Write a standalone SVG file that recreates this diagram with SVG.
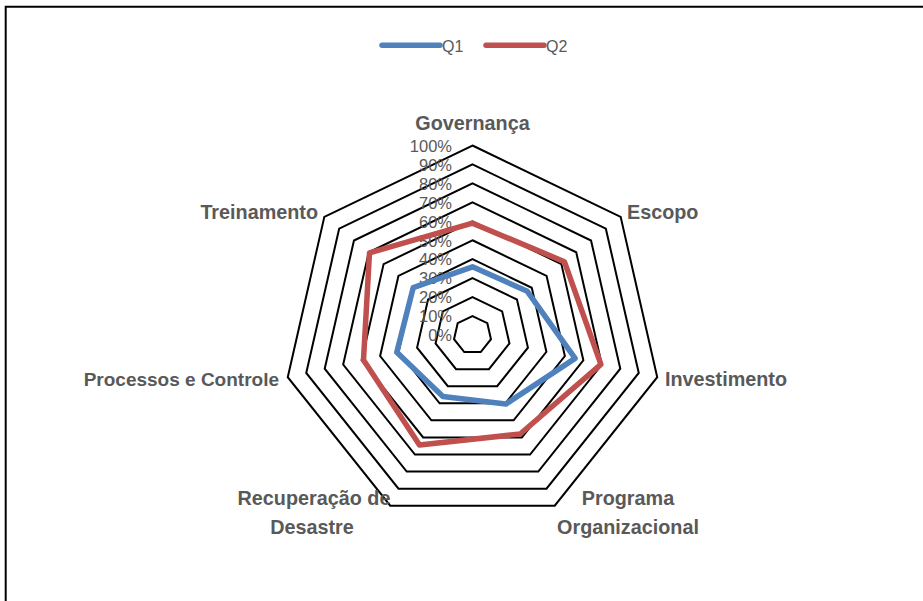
<svg xmlns="http://www.w3.org/2000/svg" width="923" height="601" viewBox="0 0 923 601">
<style>
.ring{fill:none;stroke:#000;stroke-width:2;stroke-linejoin:miter}
.tick{font-family:"Liberation Sans",Arial,sans-serif;font-size:16.5px;fill:#595959;text-anchor:end}
.cat{font-family:"Liberation Sans",Arial,sans-serif;font-size:19.8px;font-weight:bold;fill:#595959}
.leg{font-family:"Liberation Sans",Arial,sans-serif;font-size:16px;fill:#595959}
.q1{fill:none;stroke:#4F81BD;stroke-width:5.5;stroke-linejoin:round;stroke-linecap:round}
.q2{fill:none;stroke:#C0504D;stroke-width:5.5;stroke-linejoin:round;stroke-linecap:round}
</style>
<rect x="0" y="0" width="923" height="601" fill="#fff"/>
<path d="M5.7,601 V6.7 H923" fill="none" stroke="#000" stroke-width="2"/>
<g id="legend">
<line x1="382" y1="45.3" x2="440" y2="45.3" class="q1"/>
<text x="442" y="51.5" class="leg">Q1</text>
<line x1="486" y1="45.3" x2="544" y2="45.3" class="q2"/>
<text x="546" y="51.5" class="leg">Q2</text>
</g>
<g id="grid">
<polygon class="ring" points="472.5,316.05 487.32,323.19 490.98,339.22 480.72,352.07 464.28,352.07 454.03,339.22 457.68,323.19"/>
<polygon class="ring" points="472.5,297.1 502.13,311.37 509.45,343.43 488.94,369.15 456.06,369.15 435.55,343.43 442.87,311.37"/>
<polygon class="ring" points="472.5,278.15 516.95,299.56 527.93,347.65 497.17,386.22 447.83,386.22 417.08,347.65 428.05,299.56"/>
<polygon class="ring" points="472.5,259.2 531.76,287.74 546.4,351.87 505.39,403.29 439.61,403.29 398.6,351.87 413.24,287.74"/>
<polygon class="ring" points="472.5,240.25 546.58,275.92 564.88,356.08 513.61,420.37 431.39,420.37 380.13,356.08 398.42,275.92"/>
<polygon class="ring" points="472.5,221.3 561.39,264.11 583.35,360.3 521.83,437.44 423.17,437.44 361.65,360.3 383.61,264.11"/>
<polygon class="ring" points="472.5,202.35 576.21,252.29 601.82,364.52 530.06,454.51 414.95,454.51 343.18,364.52 368.79,252.29"/>
<polygon class="ring" points="472.5,183.4 591.03,240.48 620.3,368.73 538.28,471.59 406.72,471.59 324.7,368.73 353.97,240.48"/>
<polygon class="ring" points="472.5,164.45 605.84,228.66 638.77,372.95 546.5,488.66 398.5,488.66 306.23,372.95 339.16,228.66"/>
<polygon class="ring" points="472.5,145.5 620.66,216.85 657.25,377.17 554.72,505.73 390.28,505.73 287.75,377.17 324.34,216.85"/>
</g>
<g id="ticks">
<text class="tick" x="452" y="341.2">0%</text>
<text class="tick" x="452" y="322.3">10%</text>
<text class="tick" x="452" y="303.3">20%</text>
<text class="tick" x="452" y="284.4">30%</text>
<text class="tick" x="452" y="265.4">40%</text>
<text class="tick" x="452" y="246.5">50%</text>
<text class="tick" x="452" y="227.5">60%</text>
<text class="tick" x="452" y="208.6">70%</text>
<text class="tick" x="452" y="189.6">80%</text>
<text class="tick" x="452" y="170.7">90%</text>
<text class="tick" x="452" y="151.7">100%</text>
</g>
<g id="series">
<polygon class="q1" points="472.5,266.8 527.3,291.3 575.1,358.4 505.8,404.1 442.9,396.4 396.8,352.3 413.2,287.7"/>
<polygon class="q2" points="472.5,223.2 564.4,261.7 600.9,364.3 520.2,434 419.5,445.1 363.5,359.9 369.5,252.9"/>
</g>
<g id="labels">
<text class="cat" x="472.5" y="129.5" text-anchor="middle">Governança</text>
<text class="cat" x="627" y="219">Escopo</text>
<text class="cat" x="665" y="385.5">Investimento</text>
<text class="cat" x="628" y="504.5" text-anchor="middle">Programa</text>
<text class="cat" x="628" y="533.5" text-anchor="middle">Organizacional</text>
<text class="cat" x="314" y="504.5" text-anchor="middle">Recuperação de</text>
<text class="cat" x="312" y="533.5" text-anchor="middle">Desastre</text>
<text class="cat" x="279" y="385.5" text-anchor="end" style="font-size:19px">Processos e Controle</text>
<text class="cat" x="318" y="219" text-anchor="end">Treinamento</text>
</g>
</svg>
